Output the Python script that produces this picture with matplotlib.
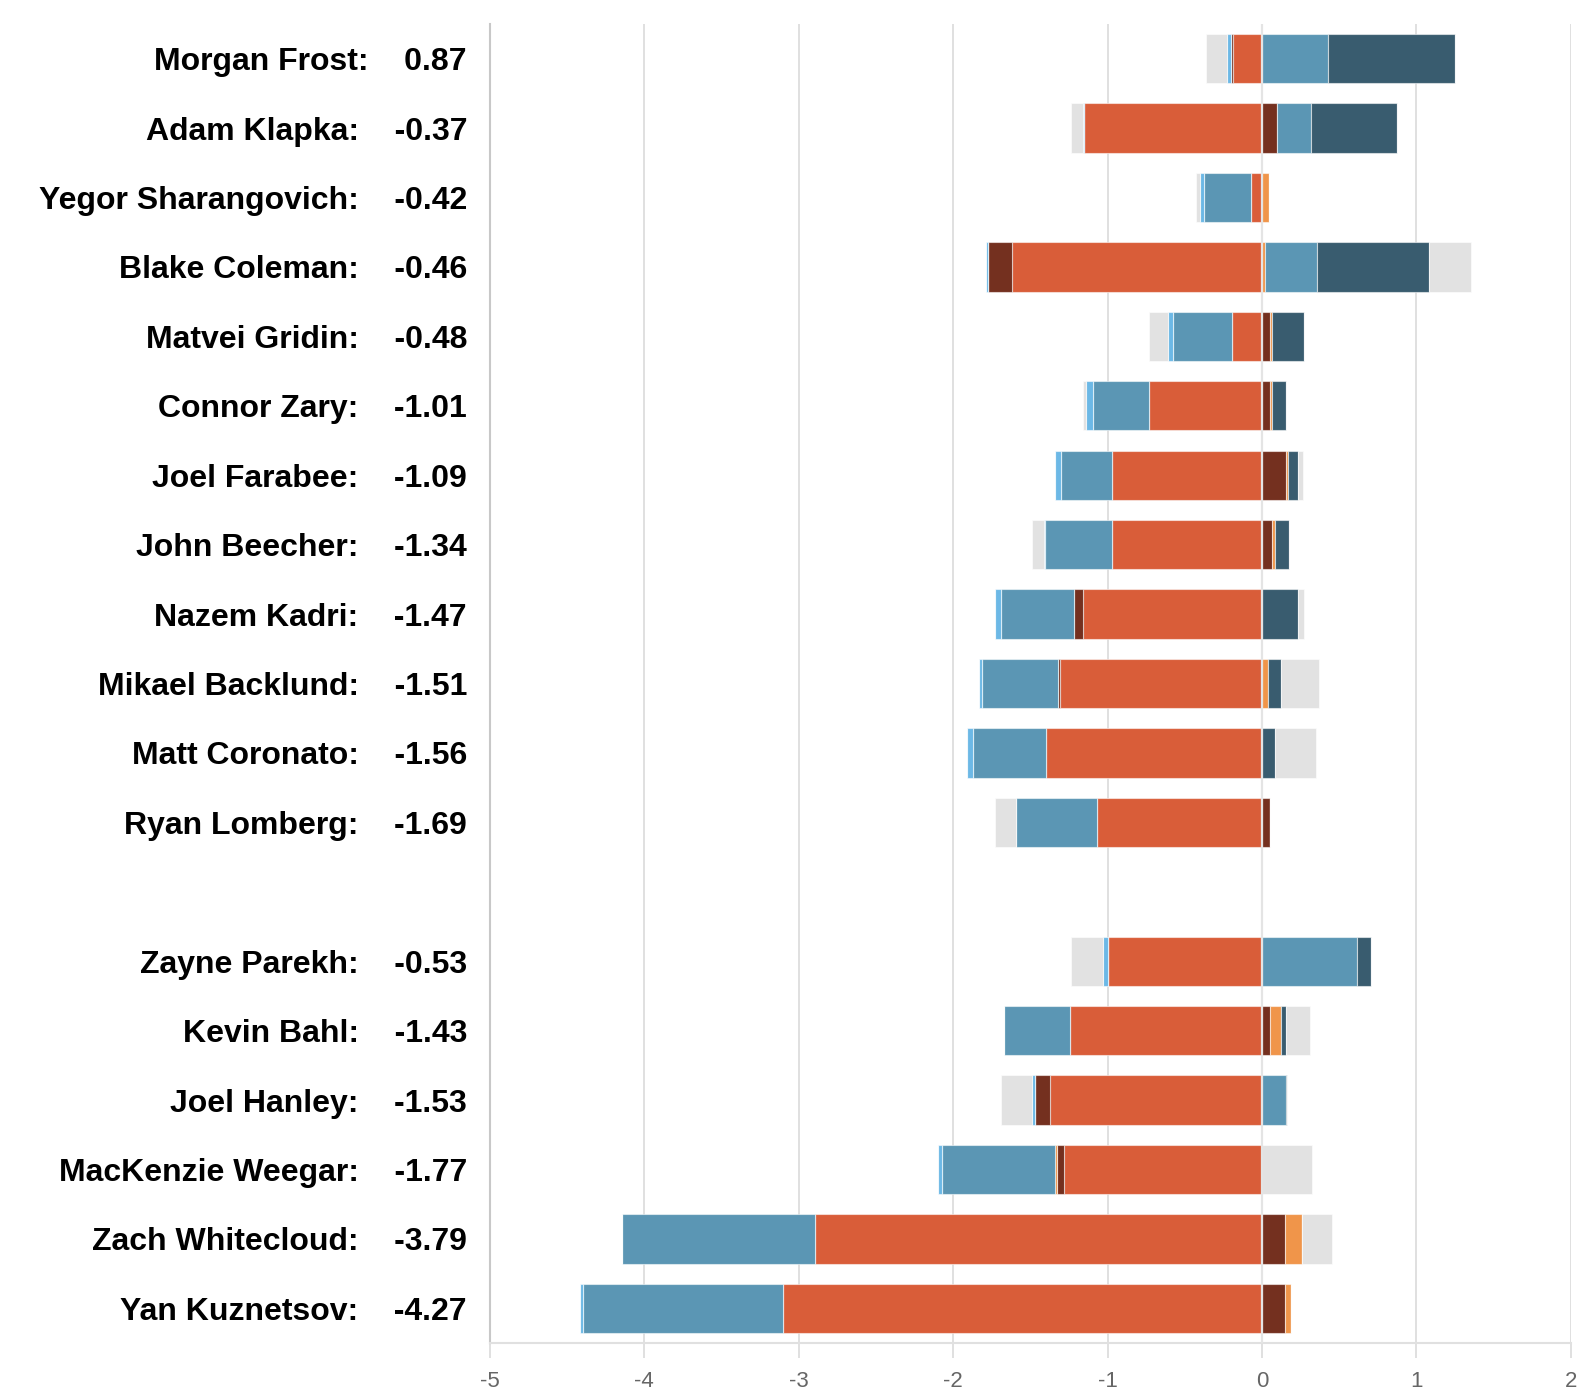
import matplotlib
matplotlib.use("Agg")
import matplotlib.pyplot as plt
import matplotlib.transforms as mtransforms
import numpy as np

plt.rcParams["font.family"] = ["Liberation Sans", "DejaVu Sans"]
plt.rcParams["axes.unicode_minus"] = False

# rows top to bottom; None marks the empty slot between the two groups
players = [
    "Morgan Frost", "Adam Klapka", "Yegor Sharangovich", "Blake Coleman",
    "Matvei Gridin", "Connor Zary", "Joel Farabee", "John Beecher",
    "Nazem Kadri", "Mikael Backlund", "Matt Coronato", "Ryan Lomberg",
    None,
    "Zayne Parekh", "Kevin Bahl", "Joel Hanley", "MacKenzie Weegar",
    "Zach Whitecloud", "Yan Kuznetsov",
]
totals = [
    "0.87", "-0.37", "-0.42", "-0.46", "-0.48", "-1.01", "-1.09", "-1.34",
    "-1.47", "-1.51", "-1.56", "-1.69", None,
    "-0.53", "-1.43", "-1.53", "-1.77", "-3.79", "-4.27",
]

# component values per row (signed), same order as players
comp_red = [-0.19, -1.15, -0.069, -1.619, -0.195, -0.729, -0.97, -0.97,
            -1.16, -1.309, -1.40, -1.067, 0,
            -1.0, -1.242, -1.371, -1.281, -2.894, -3.099]
comp_brown = [-0.01, 0.10, 0, -0.157, 0.054, 0.054, 0.154, 0.063,
              -0.058, -0.009, 0, 0.052, 0,
              0, 0.052, -0.096, -0.049, 0.149, 0.149]
comp_orange = [0, 0, 0.043, 0.02, 0.011, 0.011, 0.013, 0.024,
               0, 0.041, 0, 0, 0,
               0, 0.069, 0, -0.011, 0.108, 0.04]
comp_blue = [0.43, 0.215, -0.309, 0.334, -0.381, -0.368, -0.329, -0.433,
             -0.469, -0.493, -0.47, -0.523, 0,
             0.616, -0.428, 0.155, -0.728, -1.248, -1.30]
comp_navy = [0.82, 0.558, 0, 0.728, 0.21, 0.089, 0.067, 0.089,
             0.231, 0.082, 0.082, 0, 0,
             0.092, 0.032, 0.005, 0, 0, 0]
comp_sky = [-0.025, -0.01, -0.024, -0.008, -0.032, -0.042, -0.041, -0.009,
            -0.043, -0.022, -0.039, 0, 0,
            -0.03, 0, -0.022, -0.03, 0, -0.02]
comp_gray = [-0.14, -0.075, -0.026, 0.27, -0.121, -0.021, 0.03, -0.08,
             0.039, 0.248, 0.27, -0.14, 0,
             -0.208, 0.158, -0.203, 0.324, 0.2, 0]

components = [comp_red, comp_brown, comp_orange, comp_blue, comp_navy, comp_sky, comp_gray]
colors = ["#d95d39", "#74301f", "#f0954a", "#5b96b4", "#395c6f", "#6cb8e6", "#e2e2e2"]

fig = plt.figure(figsize=(15.84, 14.0), dpi=100)
ax = fig.add_axes([0.3093, 0.0407, 0.9916 - 0.3093, 0.9829 - 0.0407])

y = np.arange(len(players))
neg_left = np.zeros(len(players))
pos_left = np.zeros(len(players))
for values, color in zip(components, colors):
    v = np.array(values, dtype=float)
    neg = np.where(v < 0, v, 0)
    pos = np.where(v > 0, v, 0)
    ax.barh(y, neg, left=neg_left, height=0.71, color=color,
            edgecolor=(1, 1, 1, 0.55), linewidth=0.8, zorder=2)
    ax.barh(y, pos, left=pos_left, height=0.71, color=color,
            edgecolor=(1, 1, 1, 0.55), linewidth=0.8, zorder=2)
    neg_left += neg
    pos_left += pos

ax.axvline(0, color="#e4e4e4", lw=1.6, zorder=3)

ax.set_xlim(-5, 2)
ax.set_ylim(len(players) - 0.5, -0.5)
ax.set_xticks(range(-5, 3))
ax.set_xticklabels([str(t) for t in range(-5, 3)])
ax.set_yticks([])
ax.grid(axis="x", color="#e0e0e0", lw=1.4, zorder=0)
ax.set_axisbelow(True)
for side in ("top", "right"):
    ax.spines[side].set_visible(False)
ax.spines["left"].set_color("#c8c8c8")
ax.spines["left"].set_linewidth(1.5)
ax.spines["bottom"].set_color("#e0e0e0")
ax.spines["bottom"].set_linewidth(1.5)
ax.tick_params(axis="x", length=11, width=1.4, color="#e0e0e0",
               labelsize=16, labelcolor="#666666", pad=9)

trans = mtransforms.blended_transform_factory(fig.transFigure, ax.transData)
for i, (name, total) in enumerate(zip(players, totals)):
    if name is None:
        continue
    ax.text(467 / 1584, i, f"{name}:    {total}", transform=trans,
            ha="right", va="center_baseline", fontsize=23,
            fontweight="bold", color="black")

fig.savefig("out.png", dpi=100, facecolor="white")
